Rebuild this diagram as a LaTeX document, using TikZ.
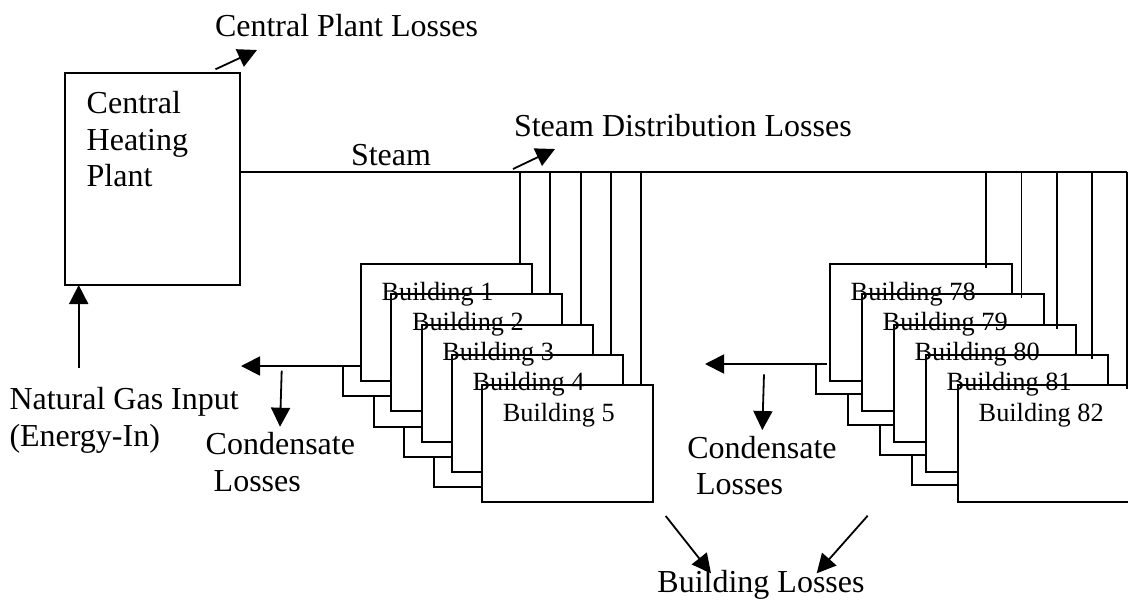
\documentclass[tikz,border=0pt]{standalone}
\usepackage{fontspec}
\setmainfont{Liberation Serif}
\usetikzlibrary{arrows.meta,calc}
\begin{document}
\begin{tikzpicture}[x=1pt,y=-1pt,
  ln/.style={line width=1.8pt},
  box/.style={draw, fill=white, line width=1.8pt, inner sep=0pt, outer sep=0pt, anchor=north west, minimum height=117pt},
  txt/.style={font=\fontsize{32}{36.5}\selectfont, inner sep=0pt, outer sep=0pt, anchor=base west},
  btxt/.style={font=\fontsize{26.3}{30}\selectfont, inner sep=0pt, outer sep=0pt, anchor=base west},
  arr/.style={line width=1.8pt, -{Triangle[length=19pt,width=19pt]}}
]
\clip (0,0) rectangle (1128,600);
% central plant
\node[box, minimum width=175pt, minimum height=212pt] (plant) at (65,73) {};
% buildings, left group
\foreach \k [evaluate=\k as \x using {361+30.3*(\k-1)}, evaluate=\k as \y using {264+30.3*(\k-1)}] in {1,...,5}
  {\node[box, minimum width=171pt] (B\k) at (\x,\y) {};}
% buildings, right group
\foreach \k/\n [evaluate=\k as \x using {830+32*(\k-1)}, evaluate=\k as \y using {264+30.3*(\k-1)}] in {1/78,2/79,3/80,4/81,5/82}
  {\node[box, minimum width=182pt] (B\n) at (\x,\y) {};}
% steam main
\coordinate (send) at (1127,172);
\draw[ln] (plant.east |- send) -- (send);
% drops, left group
\foreach \k in {1,...,5}{
  \path ([xshift=-12pt]B\k.north east) coordinate (dL\k);
  \draw[ln] (dL\k |- send) -- (dL\k);
}
% drops, right group
\foreach \k/\n [evaluate=\k as \s using {-25.7+3.2*(\k-1)}] in {1/78,2/79,3/80,4/81,5/82}{
  \path ([xshift=\s pt, yshift=-4pt]B\n.north east) coordinate (dR\n);
  \draw[ln] (dR\n |- send) -- (dR\n);
}
% condensate, left group
\foreach \k in {1,...,5}{\path ([yshift=-102pt]B\k.north west) coordinate (cL\k);}
\coordinate (clt) at (241,366);
\draw[arr] ([xshift=1pt]cL1) -- (clt);
\foreach \k [evaluate=\k as \j using {int(\k-1)}] in {2,...,5}{
  \draw[ln] ([xshift=-48pt]cL\k |- cL\j) |- (cL\k);
}
\coordinate (dla) at (281.7,370.7);
\coordinate (dlb) at (280,426.7);
\draw[arr] (dla) -- (dlb);
% condensate, right group
\foreach \n in {78,...,82}{\path ([yshift=-100pt]B\n.north west) coordinate (cR\n);}
\coordinate (crt) at (705,364);
\draw[arr] ([xshift=-3pt]cR78) -- (crt);
\foreach \n [evaluate=\n as \j using {int(\n-1)}] in {79,...,82}{
  \draw[ln] ([xshift=-46pt]cR\n |- cR\j) |- (cR\n);
}
\coordinate (dra) at (764,374.3);
\coordinate (drb) at (762.3,430);
\draw[arr] (dra) -- (drb);
% loss arrows
\coordinate (cpa) at (215.5,69.3);
\coordinate (cpb) at (257,50);
\draw[arr] (cpa) -- (cpb);
\coordinate (sda) at (513,169);
\coordinate (sdb) at (555,149);
\draw[arr] (sda) -- (sdb);
\coordinate (nga) at (78.7,368);
\draw[arr] (nga) -- (plant.south -| nga);
\coordinate (bla) at (665.7,516);
\coordinate (blb) at (711,573.3);
\draw[arr] (bla) -- (blb);
\coordinate (bra) at (867.7,515.7);
\coordinate (brb) at (816.7,573.3);
\draw[arr] (bra) -- (brb);
% texts (multi-line nodes: base = last line)
\node[txt, align=left] (plantlbl) at (86.7,186.7) {Central\\Heating\\Plant};
\node[txt] (steamlbl) at (351,165) {Steam};
\node[txt] (cpl) at (215,36) {Central Plant Losses};
\node[txt] (sdl) at (514,136) {Steam Distribution Losses};
\node[txt, align=left] (ngl) at (9.5,446) {Natural Gas Input\\(Energy-In)};
\node[txt, align=left] (cll) at (205.7,491) {Condensate\\\hspace*{8pt}Losses};
\node[txt, align=left] (crl) at (687.3,494.5) {Condensate\\\hspace*{8.7pt}Losses};
\node[txt, anchor=base] (bll) at (761,592) {Building Losses};
\foreach \k in {1,...,5}
  {\node[btxt] (t\k) at ([xshift=20.7pt,yshift=-36pt]B\k.north west) {Building \k};}
\foreach \n in {78,...,82}
  {\node[btxt] (t\n) at ([xshift=20.7pt,yshift=-36pt]B\n.north west) {Building \n};}
\end{tikzpicture}
\end{document}
